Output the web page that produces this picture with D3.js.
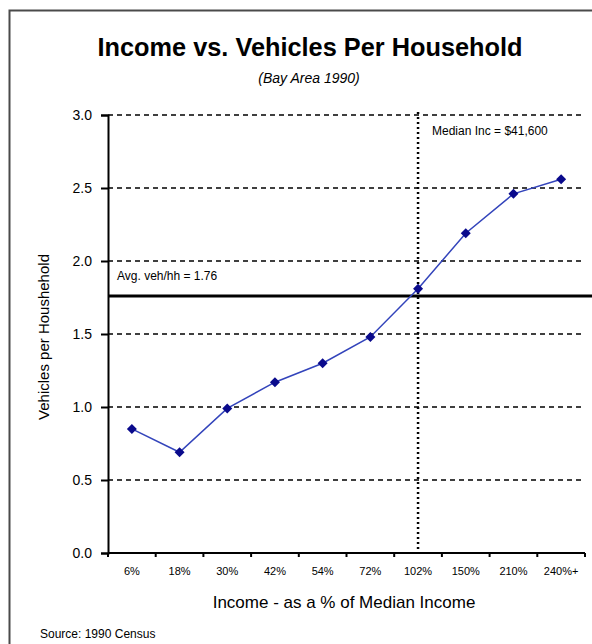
<!DOCTYPE html>
<html>
<head>
<meta charset="utf-8">
<script src="https://cdn.jsdelivr.net/npm/d3@7"></script>
<style>
  html, body { margin: 0; padding: 0; background: #fff; }
  svg { display: block; font-family: "Liberation Sans", Arial, sans-serif; }
</style>
</head>
<body>
<svg id="chart" width="592" height="644"></svg>
<script>
// Income brackets (as % of median income) and average vehicles per household
const categories = ["6%", "18%", "30%", "42%", "54%", "72%", "102%", "150%", "210%", "240%+"];
const vehicles = [0.85, 0.69, 0.99, 1.17, 1.30, 1.48, 1.81, 2.19, 2.46, 2.56];
const yTicks = [0, 0.5, 1.0, 1.5, 2.0, 2.5, 3.0];
const avgVehicles = 1.76;
const medianCategory = "102%";

const svg = d3.select("#chart");
const margin = { left: 108, right: 585, top: 115, bottom: 553 };

const x = d3.scaleBand().domain(categories).range([margin.left, margin.right]).padding(0);
const y = d3.scaleLinear().domain([0, 3]).range([margin.bottom, margin.top]);

// outer frame (runs off the right and bottom edges)
svg.append("rect")
  .attr("x", 9.5).attr("y", 10.5)
  .attr("width", 600).attr("height", 650)
  .attr("fill", "none").attr("stroke", "#4a4a4a").attr("stroke-width", 2);

// titles
svg.append("text")
  .attr("x", 310).attr("y", 56)
  .attr("text-anchor", "middle")
  .attr("font-size", 26).attr("font-weight", "bold")
  .attr("textLength", 425).attr("lengthAdjust", "spacingAndGlyphs")
  .text("Income vs. Vehicles Per Household");

svg.append("text")
  .attr("x", 309).attr("y", 83)
  .attr("text-anchor", "middle")
  .attr("font-size", 14).attr("font-style", "italic")
  .text("(Bay Area 1990)");

// horizontal dashed gridlines
svg.append("g")
  .selectAll("line")
  .data(yTicks.filter(d => d > 0))
  .join("line")
  .attr("x1", margin.left).attr("x2", margin.right)
  .attr("y1", d => y(d)).attr("y2", d => y(d))
  .attr("stroke", "#000").attr("stroke-width", 1.5)
  .attr("stroke-dasharray", "5,4");

// y axis
const yAxis = d3.axisLeft(y).tickValues(yTicks).tickFormat(d3.format(".1f")).tickSize(7).tickPadding(9);
const gy = svg.append("g").attr("transform", `translate(${margin.left},0)`).call(yAxis);
gy.select(".domain").attr("stroke", "#000").attr("stroke-width", 2);
gy.selectAll(".tick line").attr("stroke", "#000").attr("stroke-width", 2);
gy.selectAll(".tick text").attr("font-size", 14).attr("fill", "#000")
  .attr("font-family", "Liberation Sans, Arial, sans-serif");

// x axis: tick marks on the band boundaries, labels at band centres
const boundaries = categories.map(c => x(c)).concat([margin.right]);
svg.append("line")
  .attr("x1", margin.left).attr("x2", margin.right)
  .attr("y1", margin.bottom).attr("y2", margin.bottom)
  .attr("stroke", "#000").attr("stroke-width", 2);
svg.append("g")
  .selectAll("line")
  .data(boundaries)
  .join("line")
  .attr("x1", d => d).attr("x2", d => d)
  .attr("y1", margin.bottom).attr("y2", margin.bottom + 4)
  .attr("stroke", "#000").attr("stroke-width", 2);
svg.append("g")
  .selectAll("text")
  .data(categories)
  .join("text")
  .attr("x", d => x(d) + x.bandwidth() / 2)
  .attr("y", 575)
  .attr("text-anchor", "middle")
  .attr("font-size", 11)
  .text(d => d);

// axis titles
svg.append("text")
  .attr("transform", "translate(49,337) rotate(-90)")
  .attr("text-anchor", "middle")
  .attr("font-size", 15)
  .text("Vehicles per Houshehold");

svg.append("text")
  .attr("x", 344).attr("y", 608)
  .attr("text-anchor", "middle")
  .attr("font-size", 17)
  .text("Income - as a % of Median Income");

svg.append("text")
  .attr("x", 40).attr("y", 638)
  .attr("font-size", 12)
  .text("Source: 1990 Census");

// median income marker (dotted vertical)
const medX = x(medianCategory) + x.bandwidth() / 2;
svg.append("line")
  .attr("x1", medX).attr("x2", medX)
  .attr("y1", y(3) - 3).attr("y2", margin.bottom)
  .attr("stroke", "#000").attr("stroke-width", 2.5)
  .attr("stroke-dasharray", "2,3");
svg.append("text")
  .attr("x", 432).attr("y", 135)
  .attr("font-size", 12)
  .text("Median Inc = $41,600");

// average vehicles per household line
svg.append("line")
  .attr("x1", margin.left).attr("x2", 592)
  .attr("y1", y(avgVehicles)).attr("y2", y(avgVehicles))
  .attr("stroke", "#000").attr("stroke-width", 3);
svg.append("text")
  .attr("x", 117).attr("y", 280)
  .attr("font-size", 12)
  .text("Avg. veh/hh = 1.76");

// series line and diamond markers
const pts = categories.map((c, i) => ({ c, v: vehicles[i] }));
svg.append("path")
  .datum(pts)
  .attr("fill", "none")
  .attr("stroke", "#3344bb").attr("stroke-width", 1.5)
  .attr("d", d3.line().x(d => x(d.c) + x.bandwidth() / 2).y(d => y(d.v)));

svg.append("g")
  .selectAll("path")
  .data(pts)
  .join("path")
  .attr("transform", d => `translate(${x(d.c) + x.bandwidth() / 2},${y(d.v)}) rotate(45)`)
  .attr("d", d3.symbol().type(d3.symbolSquare).size(50))
  .attr("fill", "#0a0a8c");
</script>
</body>
</html>
